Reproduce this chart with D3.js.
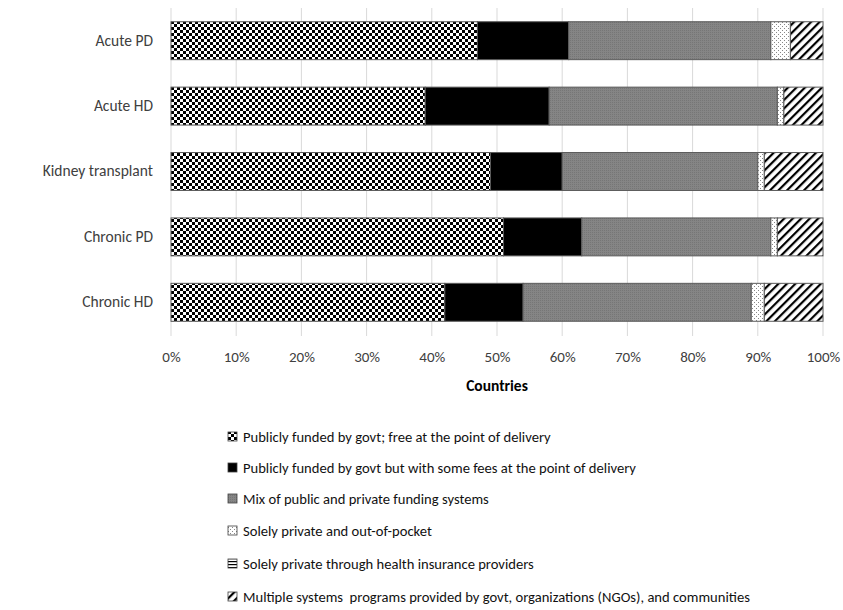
<!DOCTYPE html>
<html>
<head>
<meta charset="utf-8">
<script src="https://cdn.jsdelivr.net/npm/d3@7"></script>
<style>
  html, body { margin: 0; padding: 0; background: #fff; }
  svg { display: block; font-family: Carlito, Lato, "Open Sans", sans-serif; }
  .legtext { white-space: pre; }
</style>
</head>
<body>
<svg id="chart" width="843" height="610"></svg>
<script>
const categories = ["Acute PD", "Acute HD", "Kidney transplant", "Chronic PD", "Chronic HD"];
const seriesNames = [
  "Publicly funded by govt; free at the point of delivery",
  "Publicly funded by govt but with some fees at the point of delivery",
  "Mix of public and private funding systems",
  "Solely private and out-of-pocket",
  "Solely private through health insurance providers",
  "Multiple systems  programs provided by govt, organizations (NGOs), and communities"
];
const publicFree   = [47, 39, 49, 51, 42];
const publicFees   = [14, 19, 11, 12, 12];
const mixed        = [31, 35, 30, 29, 35];
const privateOOP   = [3, 1, 1, 1, 2];
const privateIns   = [0, 0, 0, 0, 0];
const multiple     = [5, 6, 9, 7, 9];
const tickValues = [0, 10, 20, 30, 40, 50, 60, 70, 80, 90, 100];
const xTitle = "Countries";

const seriesValues = [publicFree, publicFees, mixed, privateOOP, privateIns, multiple];
const patternIds = ["p-check", "p-black", "p-gray", "p-dots", "p-hlines", "p-hatch"];

const svg = d3.select("#chart");
const defs = svg.append("defs");

{
  const p = defs.append("pattern").attr("id", "p-check").attr("patternUnits", "userSpaceOnUse")
    .attr("width", 6).attr("height", 6);
  p.append("rect").attr("width", 6).attr("height", 6).attr("fill", "#fff");
  p.append("rect").attr("x", 0).attr("y", 0).attr("width", 3).attr("height", 3).attr("fill", "#000");
  p.append("rect").attr("x", 3).attr("y", 3).attr("width", 3).attr("height", 3).attr("fill", "#000");
}
{
  const p = defs.append("pattern").attr("id", "p-black").attr("patternUnits", "userSpaceOnUse")
    .attr("width", 4).attr("height", 4);
  p.append("rect").attr("width", 4).attr("height", 4).attr("fill", "#000");
}
{
  const p = defs.append("pattern").attr("id", "p-gray").attr("patternUnits", "userSpaceOnUse")
    .attr("width", 2).attr("height", 2);
  p.append("rect").attr("width", 2).attr("height", 2).attr("fill", "#858585");
  p.append("rect").attr("width", 1).attr("height", 1).attr("fill", "#767676");
}
{
  const p = defs.append("pattern").attr("id", "p-dots").attr("patternUnits", "userSpaceOnUse")
    .attr("width", 4).attr("height", 4);
  p.append("rect").attr("width", 4).attr("height", 4).attr("fill", "#fff");
  p.append("rect").attr("x", 0).attr("y", 0).attr("width", 1).attr("height", 1).attr("fill", "#888");
  p.append("rect").attr("x", 2).attr("y", 2).attr("width", 1).attr("height", 1).attr("fill", "#888");
}
{
  const p = defs.append("pattern").attr("id", "p-hlines").attr("patternUnits", "userSpaceOnUse")
    .attr("width", 4).attr("height", 3);
  p.append("rect").attr("width", 4).attr("height", 3).attr("fill", "#fff");
  p.append("rect").attr("x", 0).attr("y", 0).attr("width", 4).attr("height", 1.2).attr("fill", "#000");
}
{
  const p = defs.append("pattern").attr("id", "p-hatch").attr("patternUnits", "userSpaceOnUse")
    .attr("width", 6).attr("height", 6).attr("patternTransform", "rotate(45)");
  p.append("rect").attr("width", 6).attr("height", 6).attr("fill", "#fff");
  p.append("rect").attr("x", 0).attr("y", 0).attr("width", 2.2).attr("height", 6).attr("fill", "#000");
}

const x = d3.scaleLinear().domain([0, 100]).range([171, 823]);
const y = d3.scaleBand().domain(categories).range([8, 335]).paddingInner(0.42).paddingOuter(0.21);

svg.append("g").selectAll("line").data(tickValues).join("line")
  .attr("x1", d => x(d)).attr("x2", d => x(d))
  .attr("y1", 8).attr("y2", 336)
  .attr("stroke", "#d9d9d9").attr("stroke-width", 1);

const rows = categories.map((c, i) => {
  const o = { cat: c };
  seriesValues.forEach((s, k) => o["s" + k] = s[i]);
  return o;
});
const stack = d3.stack().keys(seriesValues.map((_, k) => "s" + k));
const stacked = stack(rows);

svg.append("g").selectAll("g").data(stacked).join("g")
  .attr("fill", (d, k) => `url(#${patternIds[k]})`)
  .selectAll("rect").data(d => d.filter(v => v[1] - v[0] > 0)).join("rect")
  .attr("x", d => x(d[0]))
  .attr("width", d => x(d[1]) - x(d[0]))
  .attr("y", d => y(d.data.cat))
  .attr("height", y.bandwidth())
  .attr("stroke", "#5a5a5a").attr("stroke-width", 1);

const yAxis = d3.axisLeft(y).tickSize(0).tickPadding(18);
const yg = svg.append("g").attr("transform", `translate(${x(0)},0)`).call(yAxis);
yg.select(".domain").remove();
yg.selectAll("text").attr("font-size", 15.5).attr("fill", "#404040")
  .style("font-family", "Carlito, Lato, sans-serif");

const xAxis = d3.axisBottom(x).tickValues(tickValues).tickSize(0).tickPadding(15)
  .tickFormat(d => d + "%");
const xg = svg.append("g").attr("transform", `translate(0,336)`).call(xAxis);
xg.select(".domain").remove();
xg.selectAll("text").attr("font-size", 15).attr("fill", "#404040")
  .style("font-family", "Carlito, Lato, sans-serif");

svg.append("text").attr("x", x(50)).attr("y", 391).attr("text-anchor", "middle")
  .attr("font-size", 15.5).attr("font-weight", "bold").attr("fill", "#000").text(xTitle);

const legRowsY = [437, 468, 499, 531, 564, 597];
const leg = svg.append("g");
seriesNames.forEach((name, k) => {
  const g = leg.append("g").attr("transform", `translate(228,${legRowsY[k]})`);
  g.append("rect").attr("x", 0).attr("y", -5).attr("width", 9).attr("height", 9)
    .attr("fill", `url(#${patternIds[k]})`).attr("stroke", "#404040").attr("stroke-width", 0.8);
  g.append("text").attr("class", "legtext").attr("x", 15).attr("y", 0).attr("dy", "0.35em")
    .attr("font-size", 14.6).attr("fill", "#111").text(name);
});
</script>
</body>
</html>
